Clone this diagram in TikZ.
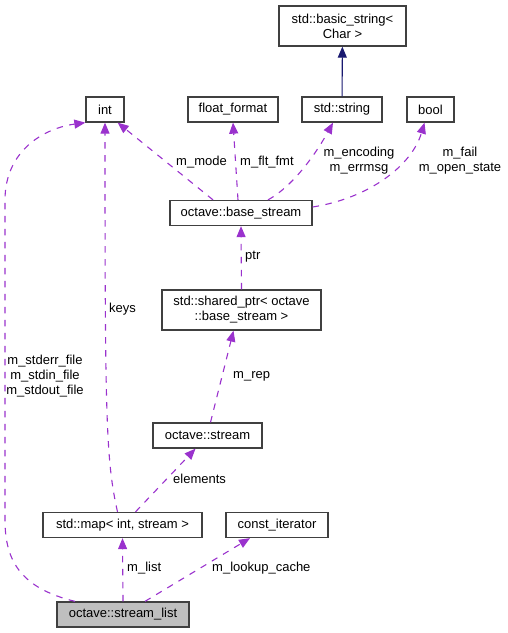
\documentclass[tikz,border=0pt]{standalone}
\usepackage{fontspec}
\setmainfont{Liberation Sans}
\usepackage{tikz}
\usetikzlibrary{arrows.meta}
\usepackage{xcolor}
\definecolor{doxpurple}{HTML}{9A32CD}
\definecolor{doxnavy}{HTML}{191970}
\definecolor{doxframe}{HTML}{404040}
\tikzset{
  dox_box/.style = {rectangle, draw=doxframe, line width=1.3pt, fill=white,
    align=center, inner sep=0pt, minimum height=25pt,
    font=\fontsize{13}{15}\selectfont},% classe, boite blanche
  dox_main/.style = {dox_box, fill=black!25},% classe du graphe, boite grise
  dox_lbl/.style = {align=center, inner sep=0pt,
    font=\fontsize{13}{15}\selectfont},% nom du membre
  dox_dep/.style = {->, doxpurple, line width=1.1pt,
    dash pattern=on 6.5pt off 6.5pt},% usage, tirets violets
  dox_inh/.style = {->, doxnavy, line width=1.1pt}% heritage, trait bleu
}

\begin{document}
\begin{tikzpicture}[x=1pt,y=-1pt,>={Triangle[length=11pt,width=9pt]}]
\useasboundingbox (0,0) rectangle (507,633);

\node [dox_box, minimum width=127pt, minimum height=40pt] (bstr) at (342.5,26)
  {std::basic\_string<\\Char >};
\node [dox_box, minimum width=38pt]  (int)  at (105,109.5)   {int};
\node [dox_box, minimum width=90pt]  (ff)   at (233,109.5)   {float\_format};
\node [dox_box, minimum width=80pt]  (str)  at (342,109.5)   {std::string};
\node [dox_box, minimum width=47pt]  (bool) at (430.5,109.5) {bool};
\node [dox_box, minimum width=142pt] (bs)   at (241,213)     {octave::base\_stream};
\node [dox_box, minimum width=159pt, minimum height=40pt] (sp) at (241.5,310)
  {std::shared\_ptr< octave\\::base\_stream >};
\node [dox_box, minimum width=109pt] (st)   at (207.5,435.5) {octave::stream};
\node [dox_box, minimum width=159pt] (map)  at (122.5,525)   {std::map< int, stream >};
\node [dox_box, minimum width=102pt] (ci)   at (277,525)     {const\_iterator};
\node [dox_main, minimum width=132pt] (sl)  at (123,614.5)   {octave::stream\_list};

% heritage
\draw [dox_inh] (str) -- (bstr);

% membres de octave::base_stream
\draw [dox_dep] ([xshift=-28pt]bs.north) -- ([xshift=-7pt]int.south east);
\draw [dox_dep] ([xshift=-3pt]bs.north) -- (ff.south);
\draw [dox_dep] ([xshift=27pt]bs.north) .. controls (295,185) and (318,150)
  .. ([xshift=-9pt]str.south);
\draw [dox_dep] ([yshift=6pt]bs.east) .. controls (370,198) and (412,165)
  .. ([xshift=-6pt]bool.south);
\draw [dox_dep] (sp.north) -- (bs.south);
\draw [dox_dep] ([xshift=3pt]st.north) -- ([xshift=-8pt]sp.south);
\draw [dox_dep] ([xshift=13pt]map.north) -- ([xshift=-12pt]st.south);
\draw [dox_dep] ([xshift=-5pt]map.north) .. controls (106,460) and (105,420)
  .. (int.south);
\draw [dox_dep] (sl.north) -- (map.south);
\draw [dox_dep] ([xshift=22pt]sl.north) -- ([xshift=-27pt]ci.south);
\draw [dox_dep] ([xshift=-48pt]sl.north) .. controls (20,588) and (5,560)
  .. (5,520) -- (5,200) .. controls (5,150) and (45,128) .. (int.south west);

\node [dox_lbl, anchor=east] (l_mode) at (227,162) {m\_mode};
\node [dox_lbl, anchor=west] (l_flt)  at (240,162) {m\_flt\_fmt};
\node [dox_lbl] (l_enc)  at (359,160.5) {m\_encoding\\m\_errmsg};
\node [dox_lbl] (l_fail) at (460,160.5) {m\_fail\\m\_open\_state};
\node [dox_lbl, anchor=west] (l_ptr)  at (245,257) {ptr};
\node [dox_lbl, anchor=west] (l_keys) at (109,309) {keys};
\node [dox_lbl] (l_std)  at (45,376) {m\_stderr\_file\\m\_stdin\_file\\m\_stdout\_file};
\node [dox_lbl, anchor=west] (l_rep)  at (233,376) {m\_rep};
\node [dox_lbl, anchor=west] (l_elem) at (173,479) {elements};
\node [dox_lbl, anchor=west] (l_list) at (127,568) {m\_list};
\node [dox_lbl, anchor=west] (l_cache) at (212,568) {m\_lookup\_cache};
\end{tikzpicture}
\end{document}
